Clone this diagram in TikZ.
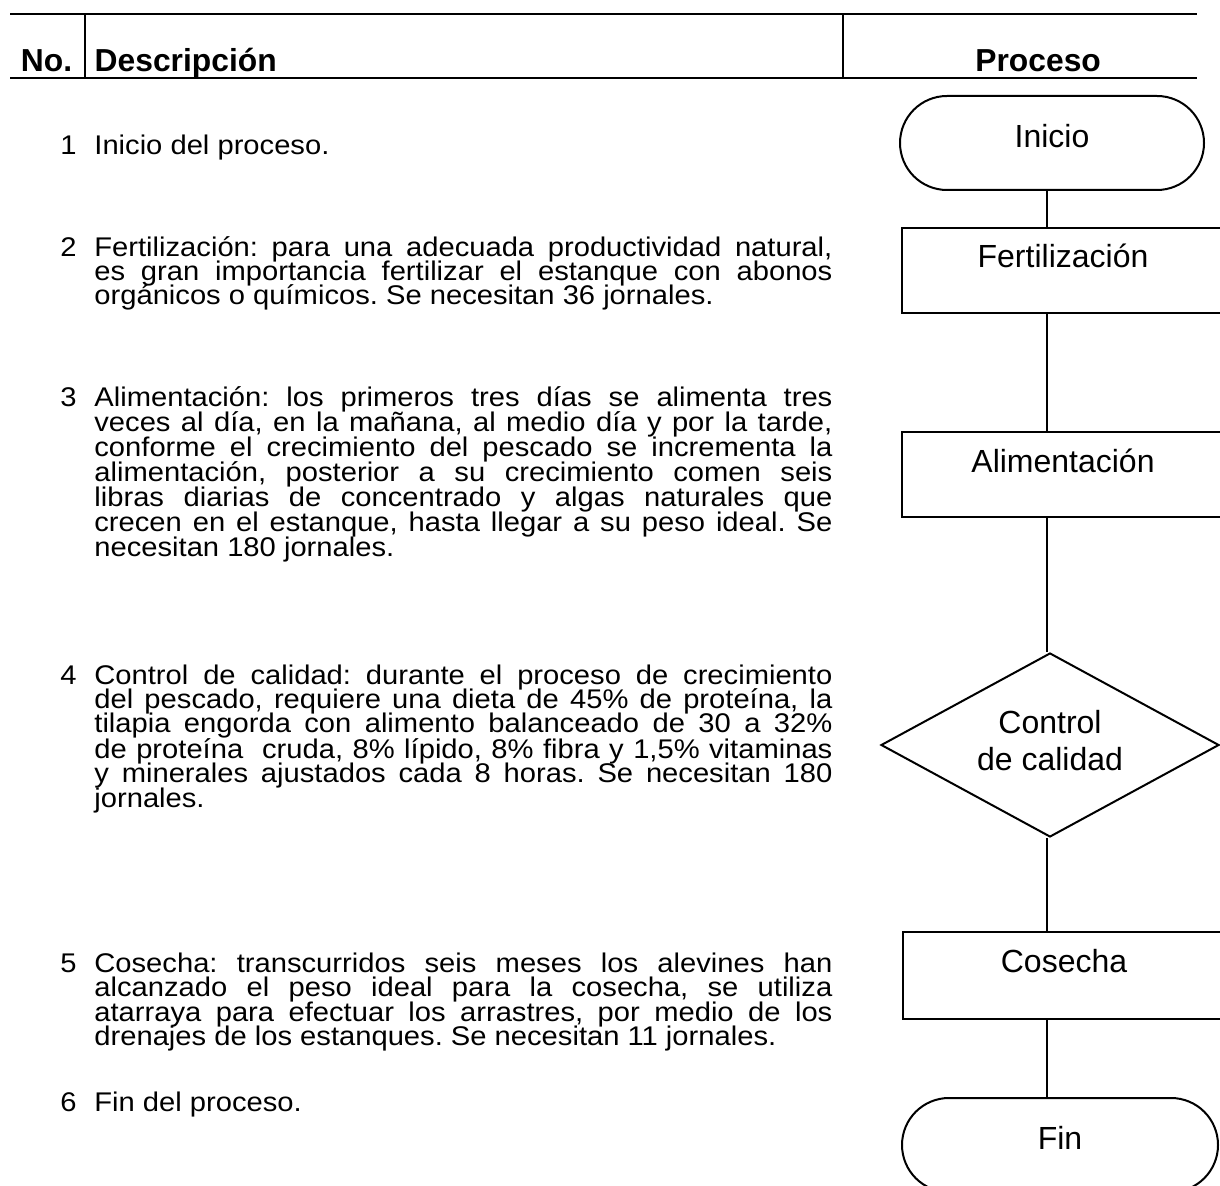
\documentclass[tikz,border=0pt]{standalone}
\usepackage{fontspec}
\setmainfont{Liberation Sans}
\newfontfamily\bodyfont[FakeStretch=1.08]{Liberation Sans}
\usetikzlibrary{shapes.geometric}
\newcommand\jline[1]{\makebox[369pt][s]{#1}}
\frenchspacing
\begin{document}
\begin{tikzpicture}[x=0.5pt,y=-0.5pt,
  rule/.style={line width=1pt},
  hdr/.style={anchor=base west,inner sep=0,font=\bfseries\fontsize{15.9pt}{18pt}\selectfont},
  num/.style={anchor=base west,inner sep=0,font=\bodyfont\fontsize{13.5pt}{16pt}\selectfont},
  txt/.style={anchor=base west,inner sep=0,font=\bodyfont\fontsize{13.5pt}{16pt}\selectfont},
  shapefont/.style={font=\fontsize{16pt}{18.5pt}\selectfont},
  term/.style={draw,line width=1pt,rounded corners=23.5pt,minimum height=47pt,inner sep=0,shapefont,text height=12pt},
  procbox/.style={draw,line width=1pt,minimum width=161pt,inner sep=0,shapefont,text height=12pt},
  decision/.style={draw,diamond,aspect=1.84,line width=1pt,minimum width=169pt,minimum height=92pt,inner sep=0,shapefont},
  link/.style={line width=1pt}]
\clip (0,0) rectangle (1220,1186);
\fill[white] (0,0) rectangle (1220,1186);
% header table
\draw[rule] (10,14) -- (1197,14);
\draw[rule] (10,78) -- (1197,78);
\draw[rule] (85,14) -- (85,78);
\draw[rule] (843,14) -- (843,78);
\node[hdr] (hno) at (20.5,72) {No.};
\node[hdr] (hdesc) at (94.3,72) {Descripción};
\node[hdr] (hproc) at (975,72) {Proceso};
% item 1
\node[num] (n1) at (60,155) {1};
\node[txt] (t1a) at (94,155) {Inicio del proceso.};
% item 2
\node[num] (n2) at (60,257) {2};
\node[txt] (t2a) at (94,257) {\jline{Fertilización: para una adecuada productividad natural,}};
\node[txt] (t2b) at (94,281) {\jline{es gran importancia fertilizar el estanque con abonos}};
\node[txt] (t2c) at (94,305) {orgánicos o químicos. Se necesitan 36 jornales.};
% item 3
\node[num] (n3) at (60,407) {3};
\node[txt] (t3a) at (94,407) {\jline{Alimentación: los primeros tres días se alimenta tres}};
\node[txt] (t3b) at (94,432) {\jline{veces al día, en la mañana, al medio día y por la tarde,}};
\node[txt] (t3c) at (94,457) {\jline{conforme el crecimiento del pescado se incrementa la}};
\node[txt] (t3d) at (94,482) {\jline{alimentación, posterior a su crecimiento comen seis}};
\node[txt] (t3e) at (94,507) {\jline{libras diarias de concentrado y algas naturales que}};
\node[txt] (t3f) at (94,532) {\jline{crecen en el estanque, hasta llegar a su peso ideal. Se}};
\node[txt] (t3g) at (94,557) {necesitan 180 jornales.};
% item 4
\node[num] (n4) at (60,684) {4};
\node[txt] (t4a) at (94,684) {\jline{Control de calidad: durante el proceso de crecimiento}};
\node[txt] (t4b) at (94,708.5) {\jline{del pescado, requiere una dieta de 45\% de proteína, la}};
\node[txt] (t4c) at (94,733) {\jline{tilapia engorda con alimento balanceado de 30 a 32\%}};
\node[txt] (t4d) at (94,758) {\jline{de proteína\ \ cruda, 8\% lípido, 8\% fibra y 1,5\% vitaminas}};
\node[txt] (t4e) at (94,782.5) {\jline{y minerales ajustados cada 8 horas. Se necesitan 180}};
\node[txt] (t4f) at (94,807) {jornales.};
% item 5
\node[num] (n5) at (60,972) {5};
\node[txt] (t5a) at (94,972) {\jline{Cosecha: transcurridos seis meses los alevines han}};
\node[txt] (t5b) at (94,996.5) {\jline{alcanzado el peso ideal para la cosecha, se utiliza}};
\node[txt] (t5c) at (94,1021) {\jline{atarraya para efectuar los arrastres, por medio de los}};
\node[txt] (t5d) at (94,1045.5) {drenajes de los estanques. Se necesitan 11 jornales.};
% item 6
\node[num] (n6) at (60,1111) {6};
\node[txt] (t6a) at (94,1111) {Fin del proceso.};
% flowchart
\coordinate (spine) at (1047,0);
\node[term,minimum width=152pt,text depth=7pt] (inicio) at (1052,143) {Inicio};
\node[procbox,minimum height=42.5pt,text depth=14.5pt] (fert) at (1063,270.5) {Fertilización};
\node[procbox,minimum height=42.5pt,text depth=13.5pt] (alim) at (1063,474.5) {Alimentación};
\node[decision] (ctrl) at (1050,745) {\begin{tabular}{@{}c@{}}Control\\de calidad\end{tabular}};
\node[procbox,minimum height=43.5pt,text depth=14.8pt] (cos) at (1064,975.5) {Cosecha};
\node[term,minimum width=158pt,text depth=8pt] (fin) at (1060,1145) {Fin};
\draw[link] (inicio.south -| spine) -- (fert.north -| spine);
\draw[link] (fert.south -| spine) -- (alim.north -| spine);
\draw[link] (alim.south -| spine) -- (ctrl.north -| spine);
\draw[link] (ctrl.south -| spine) -- (cos.north -| spine);
\draw[link] (cos.south -| spine) -- (fin.north -| spine);
\end{tikzpicture}
\end{document}
